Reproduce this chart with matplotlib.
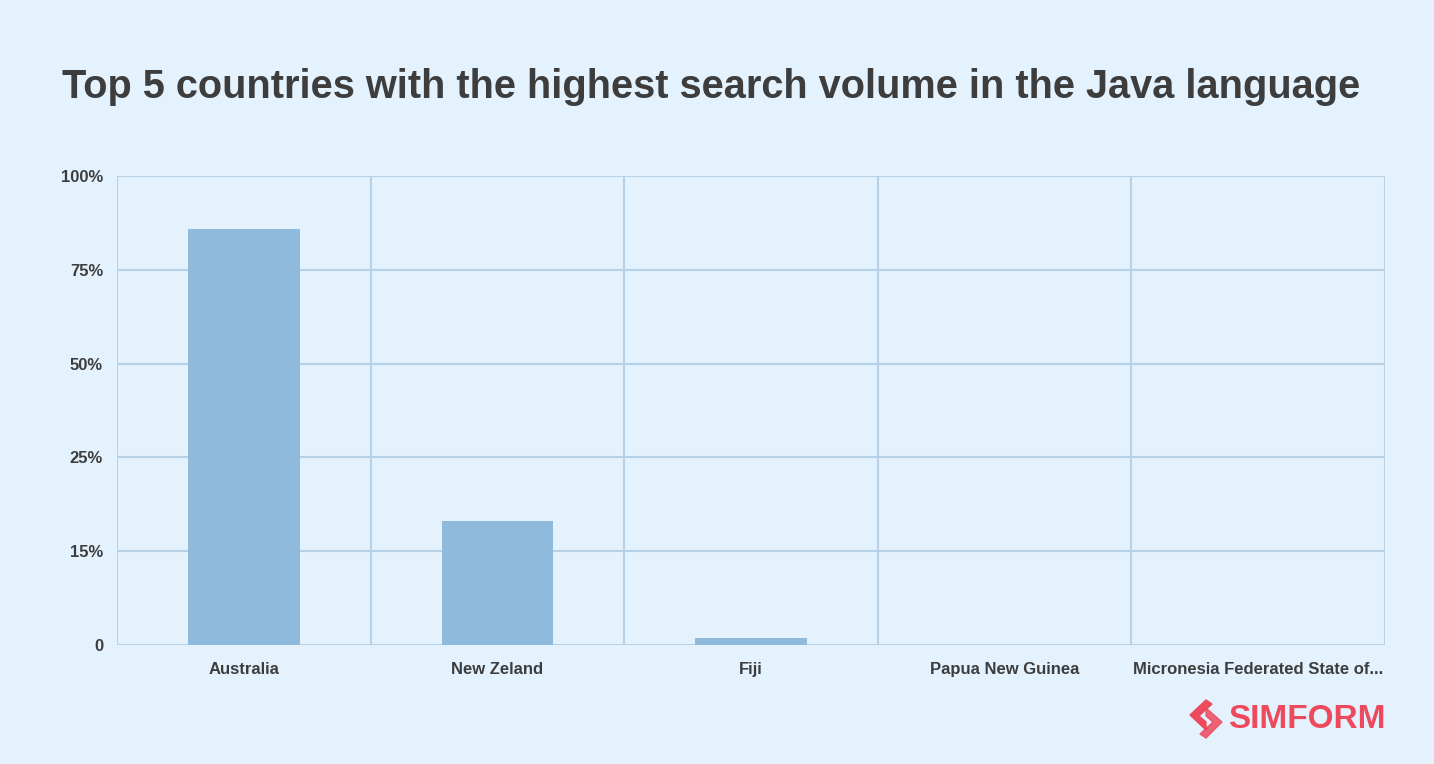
import matplotlib.pyplot as plt
from matplotlib.patches import Polygon

# Data (heights on the drawn 0-100 scale)
countries = ["Australia", "New Zeland", "Fiji", "Papua New Guinea",
             "Micronesia Federated State of..."]
heights = [88.7, 26.4, 1.5, 0.0, 0.0]
tick_pos = [0, 20, 40, 60, 80, 100]
tick_labels = ["0", "15%", "25%", "50%", "75%", "100%"]

bg = "#E4F2FE"
bar_color = "#90BADB"
grid_color = "#B7D2E6"
text_color = "#3D3D3D"

plt.rcParams['font.family'] = ['Liberation Sans', 'DejaVu Sans']

fig = plt.figure(figsize=(14.34, 7.64), dpi=100, facecolor=bg)
ax = fig.add_axes([117 / 1434, 1 - 645 / 764, (1385 - 117) / 1434, (645 - 176) / 764])
ax.set_facecolor(bg)

x = list(range(len(countries)))
ax.bar(x, heights, width=0.44, color=bar_color, zorder=3)

ax.set_xlim(-0.5, len(countries) - 0.5)
ax.set_ylim(0, 100)
ax.set_yticks(tick_pos)
ax.set_yticklabels(tick_labels)
ax.set_xticks(x)
ax.set_xticklabels(countries)

# grid: horizontal at ticks, vertical at category boundaries
for y in tick_pos:
    ax.axhline(y, color=grid_color, lw=1.5, zorder=1)
for b in [i + 0.5 for i in range(-1, len(countries))]:
    ax.axvline(b, color=grid_color, lw=1.5, zorder=1)

for s in ax.spines.values():
    s.set_visible(False)
ax.tick_params(length=0, colors=text_color, labelsize=12)
ax.tick_params(axis='x', pad=12)
ax.tick_params(axis='y', pad=10)
for lab in ax.get_xticklabels() + ax.get_yticklabels():
    lab.set_fontweight('bold')

fig.text(62 / 1434, 1 - 87 / 764, "Top 5 countries with the highest search volume in the Java language",
         fontsize=28.6, fontweight='bold', color=text_color, va='center', ha='left')

# logo
red = "#EE4A5E"
fig.text(1228 / 1434, 1 - 720 / 764, "SIMFORM", fontsize=24, fontweight='bold',
         color=red, va='center', ha='left')
W, H = 1434, 764
def px(pts):
    return [(a / W, 1 - b / H) for a, b in pts]
fig.patches.append(Polygon(px([(1190, 715), (1206, 700), (1212, 704), (1199, 716), (1206, 722), (1206, 730)]),
                           closed=True, color=red, transform=fig.transFigure))
fig.patches.append(Polygon(px([(1222, 722), (1206, 738), (1200, 734), (1213, 722), (1206, 716), (1206, 708)]),
                           closed=True, color=red, alpha=0.85, transform=fig.transFigure))

fig.savefig("out.png", dpi=100, facecolor=bg)
